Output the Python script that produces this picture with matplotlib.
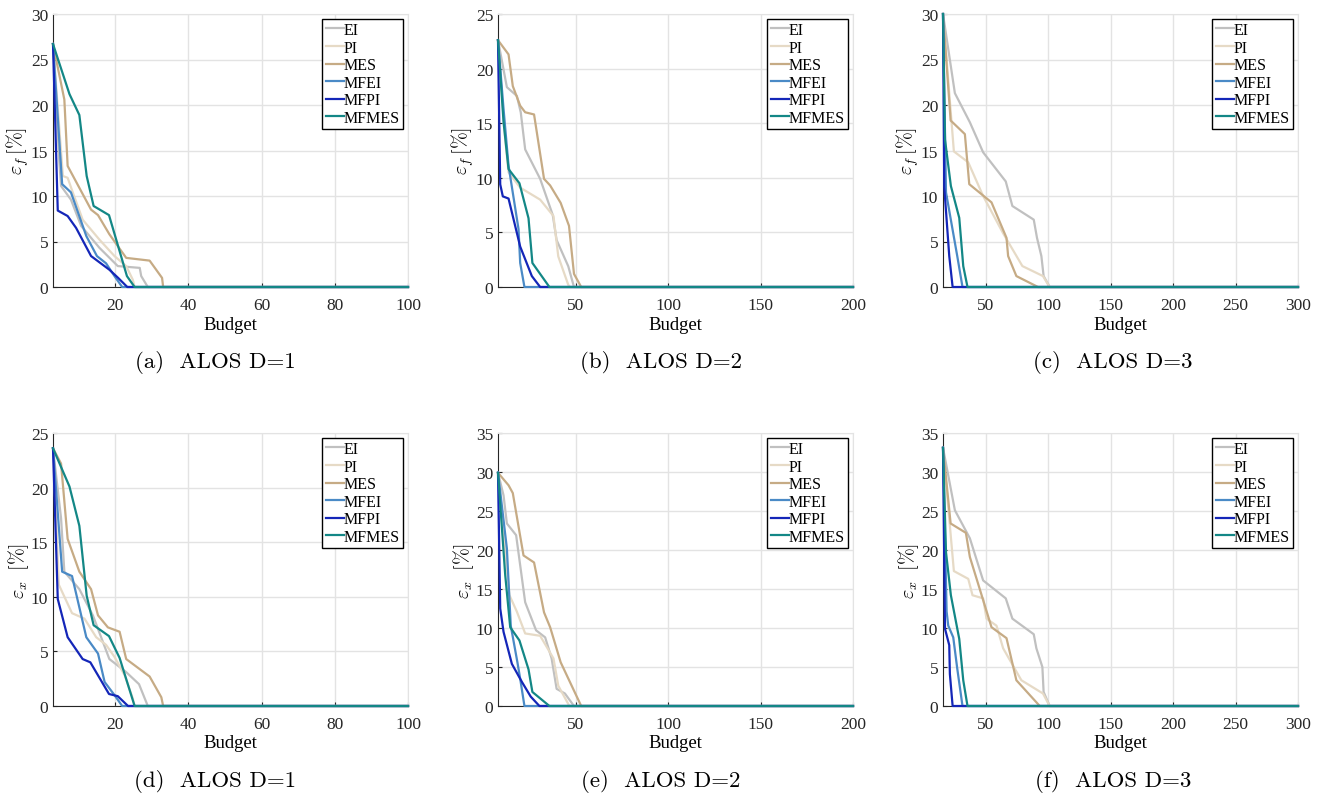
import matplotlib.pyplot as plt

plt.rcParams['font.family'] = ['Liberation Serif', 'DejaVu Serif']
plt.rcParams['mathtext.fontset'] = 'cm'

methods = ['EI', 'PI', 'MES', 'MFEI', 'MFPI', 'MFMES']
colors = ['#c0c0c0', '#e6dac6', '#c6ab85', '#4a8ac6', '#1426b8', '#138786']

# (a) ALOS D=1, eps_f
a_ei = ([3, 4.7, 5.2, 7.9, 10.7, 15.7, 20.7, 26.7, 27.1, 28.9, 100],
        [26.7, 14.0, 11.1, 9.6, 6.7, 4.3, 2.3, 2.1, 1.2, 0, 0])
a_pi = ([3, 5.7, 7.0, 8.4, 11.1, 15.7, 19.8, 23.0, 24.8, 25.3, 100],
        [26.7, 12.2, 12.0, 10.4, 7.4, 5.2, 3.4, 2.3, 0.8, 0, 0])
a_mes = ([3, 6.1, 7.0, 13.4, 15.3, 18.4, 23.0, 29.4, 32.8, 33.1, 100],
         [26.7, 20.6, 13.3, 8.5, 7.9, 5.8, 3.2, 2.9, 1.0, 0, 0])
a_mfei = ([3, 5.5, 7.9, 12.1, 15.0, 17.5, 19.8, 21.9, 100],
          [26.7, 11.3, 10.4, 5.6, 3.4, 2.6, 1.2, 0, 0])
a_mfpi = ([3, 4.3, 7.0, 9.3, 13.4, 18.4, 20.8, 23.3, 100],
          [26.7, 8.4, 7.8, 6.5, 3.4, 1.9, 1.0, 0, 0])
a_mfmes = ([3, 7.5, 10.2, 12.2, 14.1, 18.3, 23.2, 25.3, 100],
           [26.7, 21.2, 18.9, 12.2, 8.9, 7.9, 1.2, 0, 0])

# (b) ALOS D=2, eps_f
b_ei = ([8, 12.8, 18.2, 20.3, 22.7, 30.8, 37.6, 39.7, 46.0, 49.1, 200],
        [22.6, 18.3, 17.5, 16.0, 12.6, 9.9, 6.6, 4.3, 1.9, 0, 0])
b_pi = ([8, 11.9, 13.7, 20.0, 30.8, 38.0, 40.6, 46.0, 46.9, 200],
        [22.6, 13.5, 10.5, 9.1, 8.0, 6.5, 2.8, 0.2, 0, 0])
b_mes = ([8, 13.7, 16.0, 20.0, 22.7, 27.5, 32.9, 36.2, 41.9, 46.4, 49.1, 53.0, 200],
         [22.6, 21.3, 18.4, 16.6, 16.0, 15.8, 9.9, 9.3, 7.7, 5.6, 1.2, 0, 0])
b_mfei = ([8, 11.0, 13.7, 19.1, 20.0, 22.3, 200],
          [22.6, 16.3, 11.1, 5.3, 2.2, 0, 0])
b_mfpi = ([8, 9.2, 10.6, 13.7, 20.0, 26.3, 30.8, 200],
          [22.6, 9.4, 8.3, 8.1, 3.7, 1.0, 0, 0])
b_mfmes = ([8, 11.0, 13.7, 19.6, 24.5, 26.6, 35.8, 200],
           [22.6, 15.1, 10.8, 9.5, 6.3, 2.2, 0, 0])

# (c) ALOS D=3, eps_f
c_ei = ([16, 25.5, 37.5, 48.1, 66.2, 71.5, 88.6, 91.2, 94.7, 96.5, 101.3, 300],
        [30.0, 21.3, 18.1, 14.8, 11.6, 8.9, 7.4, 5.4, 3.4, 1.2, 0, 0])
c_pi = ([16, 24.7, 36.2, 48.1, 64.1, 79.5, 96.0, 101.3, 300],
        [30.0, 14.9, 13.7, 10.0, 5.9, 2.3, 1.2, 0, 0])
c_mes = ([16, 22.1, 33.5, 37.0, 54.8, 66.8, 68.1, 74.7, 92.0, 300],
         [30.0, 18.3, 16.8, 11.3, 9.3, 5.4, 3.4, 1.2, 0, 0])
c_mfei = ([16, 18.4, 27.4, 31.6, 300],
          [30.0, 10.4, 3.4, 0, 0])
c_mfpi = ([16, 17.0, 21.0, 23.7, 300],
          [30.0, 11.0, 3.4, 0, 0])
c_mfmes = ([16, 17.6, 22.3, 29.0, 32.2, 35.6, 300],
           [30.0, 16.2, 11.1, 7.6, 2.3, 0, 0])

# (d) ALOS D=1, eps_x
d_ei = ([3, 5.2, 6.1, 10.2, 13.9, 18.4, 23.0, 26.5, 28.9, 100],
        [23.6, 17.2, 12.3, 10.7, 8.3, 4.3, 3.1, 2.0, 0, 0])
d_pi = ([3, 4.6, 8.2, 11.6, 14.8, 17.5, 19.8, 22.6, 24.8, 25.3, 100],
        [23.6, 11.1, 8.5, 8.0, 6.3, 5.6, 4.5, 2.8, 0.7, 0, 0])
d_mes = ([3, 5.2, 7.0, 10.2, 13.4, 15.3, 18.0, 21.2, 23.0, 29.4, 32.6, 33.1, 100],
         [23.6, 22.2, 15.3, 12.3, 10.7, 8.3, 7.2, 6.8, 4.3, 2.7, 0.8, 0, 0])
d_mfei = ([3, 5.5, 8.2, 12.1, 15.3, 17.1, 19.8, 21.9, 100],
          [23.6, 12.3, 11.9, 6.3, 4.8, 2.2, 1.0, 0, 0])
d_mfpi = ([3, 4.3, 7.0, 11.1, 13.2, 18.3, 20.7, 23.5, 100],
          [23.6, 9.8, 6.3, 4.3, 4.0, 1.1, 0.9, 0, 0])
d_mfmes = ([3, 7.5, 10.2, 12.2, 14.1, 18.3, 21.2, 25.3, 100],
           [23.6, 20.1, 16.5, 10.1, 7.4, 6.4, 4.4, 0, 0])

# (e) ALOS D=2, eps_x
e_ei = ([8, 11.0, 12.8, 17.8, 22.7, 28.6, 33.5, 37.0, 39.7, 44.2, 49.1, 200],
        [29.9, 27.0, 23.4, 21.9, 13.3, 9.7, 8.8, 6.1, 2.2, 1.6, 0, 0])
e_pi = ([8, 14.2, 18.2, 22.7, 30.8, 38.0, 40.6, 46.6, 200],
        [29.9, 14.2, 12.1, 9.3, 9.0, 6.1, 2.6, 0, 0])
e_mes = ([8, 13.7, 16.0, 21.8, 27.5, 32.9, 36.2, 41.9, 53.0, 200],
         [29.9, 28.3, 27.3, 19.3, 18.4, 12.0, 10.1, 5.6, 0, 0])
e_mfei = ([8, 12.8, 14.9, 18.5, 20.0, 22.3, 200],
          [29.9, 20.2, 10.3, 5.6, 3.5, 0, 0])
e_mfpi = ([8, 9.2, 11.0, 15.5, 20.9, 25.7, 30.4, 200],
          [29.9, 12.5, 9.5, 5.4, 3.1, 1.2, 0, 0])
e_mfmes = ([8, 11.9, 14.6, 19.6, 24.5, 26.6, 35.8, 200],
           [29.9, 16.8, 10.1, 8.4, 4.7, 1.8, 0, 0])

# (f) ALOS D=3, eps_x
f_ei = ([16, 25.5, 37.5, 48.1, 66.2, 71.5, 88.6, 90.7, 95.5, 96.5, 101.3, 300],
        [33.1, 25.1, 21.5, 16.1, 13.8, 11.2, 9.2, 7.4, 5.0, 1.8, 0, 0])
f_pi = ([16, 24.7, 36.2, 39.6, 48.1, 50.8, 58.8, 64.1, 78.7, 96.0, 101.3, 300],
        [33.1, 17.3, 16.3, 14.2, 13.8, 11.2, 10.3, 7.4, 3.3, 1.6, 0, 0])
f_mes = ([16, 22.1, 34.3, 37.5, 54.8, 66.8, 74.7, 93.4, 300],
         [33.1, 23.4, 22.2, 19.1, 10.1, 8.7, 3.3, 0, 0])
f_mfei = ([16, 18.9, 20.2, 24.2, 27.4, 31.6, 300],
          [33.1, 12.1, 10.3, 8.8, 4.8, 0, 0])
f_mfpi = ([16, 17.6, 21.0, 21.5, 23.7, 300],
          [33.1, 9.9, 7.8, 4.1, 0, 0])
f_mfmes = ([16, 18.4, 22.3, 29.0, 32.2, 35.6, 300],
           [33.1, 19.7, 14.2, 8.6, 3.3, 0, 0])

panels = [
    ([a_ei, a_pi, a_mes, a_mfei, a_mfpi, a_mfmes], (3, 100), [20, 40, 60, 80, 100], 30, 'f', '(a)  ALOS D=1'),
    ([b_ei, b_pi, b_mes, b_mfei, b_mfpi, b_mfmes], (8, 200), [50, 100, 150, 200], 25, 'f', '(b)  ALOS D=2'),
    ([c_ei, c_pi, c_mes, c_mfei, c_mfpi, c_mfmes], (16, 300), [50, 100, 150, 200, 250, 300], 30, 'f', '(c)  ALOS D=3'),
    ([d_ei, d_pi, d_mes, d_mfei, d_mfpi, d_mfmes], (3, 100), [20, 40, 60, 80, 100], 25, 'x', '(d)  ALOS D=1'),
    ([e_ei, e_pi, e_mes, e_mfei, e_mfpi, e_mfmes], (8, 200), [50, 100, 150, 200], 35, 'x', '(e)  ALOS D=2'),
    ([f_ei, f_pi, f_mes, f_mfei, f_mfpi, f_mfmes], (16, 300), [50, 100, 150, 200, 250, 300], 35, 'x', '(f)  ALOS D=3'),
]

W, H = 1322, 803
fig = plt.figure(figsize=(W / 100, H / 100), dpi=100)

lefts = [53, 498, 943]
tops = [15, 434]
caption_x = [215, 661, 1113]
caption_y = [363, 782]
aw, ah = 355, 273

for i, (series, xlim, xticks, ymax, sub, cap) in enumerate(panels):
    r, c = divmod(i, 3)
    ax = fig.add_axes([lefts[c] / W, 1 - (tops[r] + ah) / H, aw / W, ah / H])
    for (x, y), name, col in zip(series, methods, colors):
        ax.plot(x, y, color=col, lw=1.6, label=name, clip_on=False, zorder=3)
    ax.set_xlim(*xlim)
    ax.set_ylim(0, ymax)
    ax.set_xticks(xticks)
    ax.set_yticks(range(0, ymax + 1, 5))
    ax.grid(True, color='#e3e3e3', lw=1)
    ax.set_axisbelow(True)
    for s in ['top', 'right']:
        ax.spines[s].set_color('#e3e3e3')
    for s in ['left', 'bottom']:
        ax.spines[s].set_color('#262626')
    ax.tick_params(direction='in', length=3, labelsize=12.5, colors='#262626',
                   top=False, right=False)
    ax.tick_params(axis='x', pad=7)
    ax.set_xlabel('Budget', fontsize=13.5, labelpad=2)
    if sub == 'f':
        ax.set_ylabel(r'$\varepsilon_f\,[\%]$', fontsize=14.5, labelpad=0)
    else:
        ax.set_ylabel(r'$\varepsilon_x\;\;[\%]$', fontsize=14.5, labelpad=0)
    leg = ax.legend(loc='upper right', fontsize=11.5, handlelength=1.15,
                    handletextpad=0.0, labelspacing=0.1, borderpad=0.2,
                    borderaxespad=0.3, fancybox=False, framealpha=1,
                    edgecolor='black')
    leg.get_frame().set_linewidth(1.0)
    leg.set_zorder(5)
    fig.text(caption_x[c] / W, 1 - caption_y[r] / H, cap, ha='center', va='center',
             fontsize=16.5, family=['cmr10', 'DejaVu Serif'])

fig.savefig('out.png', dpi=100)
